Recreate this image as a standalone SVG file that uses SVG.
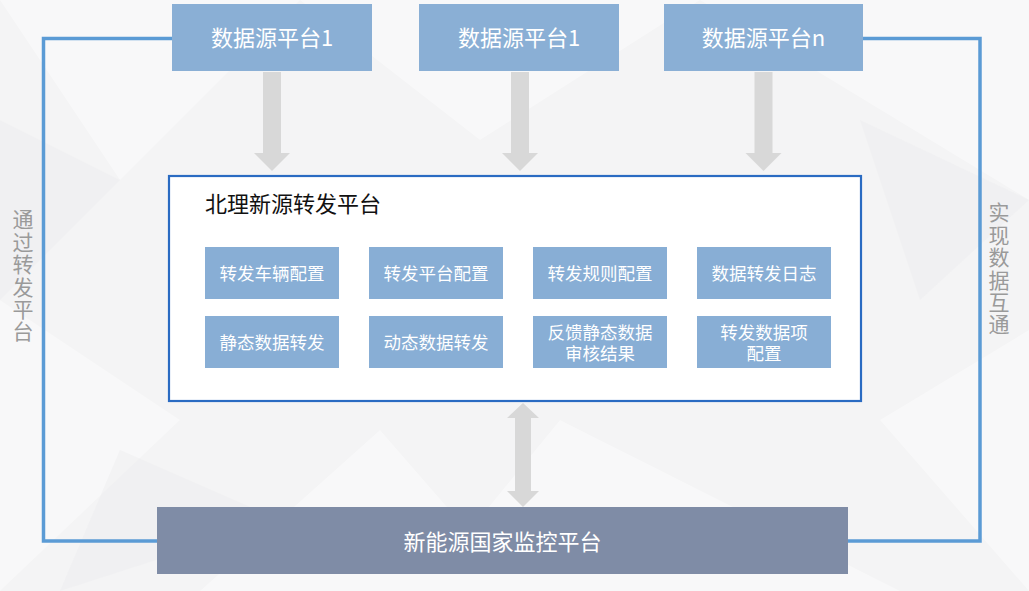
<svg xmlns="http://www.w3.org/2000/svg" width="1029" height="591" viewBox="0 0 1029 591">
  <defs>
    <style>
      .src { fill: #8aafd5; }
      .sub { fill: #88aed5; }
      .wt { fill: #ffffff; font-family: "Noto Sans CJK SC", "Liberation Sans", sans-serif; text-anchor: middle; }
      .big { font-size: 22px; }
      .sm { font-size: 17.5px; font-family: "Liberation Sans", "Noto Sans CJK SC", sans-serif; }
      .side { fill: #9a9a9a; font-family: "Noto Sans CJK SC", "Liberation Sans", sans-serif; font-size: 21px; writing-mode: vertical-rl; letter-spacing: 1.4px; }
      .link { fill: none; stroke: #5b9bd5; stroke-width: 3.5; }
      .garrow { fill: #d8d8d8; }
    </style>
  </defs>

  <!-- background -->
  <rect x="0" y="0" width="1029" height="591" fill="#f4f4f5"/>
  <g fill="#ffffff" opacity="0.4">
    <polygon points="0,0 300,0 120,180"/>
    <polygon points="300,0 700,0 480,140"/>
    <polygon points="700,0 1029,0 1029,200"/>
    <polygon points="0,300 180,420 0,591"/>
    <polygon points="560,420 900,591 420,591"/>
    <polygon points="880,420 1029,330 1029,591"/>
    <polygon points="200,591 380,430 520,591"/>
  </g>
  <g fill="#ececee" opacity="0.4">
    <polygon points="0,120 120,180 0,300"/>
    <polygon points="860,120 1029,200 920,300"/>
    <polygon points="120,450 280,520 60,591"/>
  </g>

  <!-- connectors -->
  <g id="connectors">
    <polyline class="link" points="172,38.5 43.5,38.5 43.5,541 157,541"/>
    <polyline class="link" points="860,38.5 980,38.5 980,541 848,541"/>
    <polygon class="garrow" points="263,72 281,72 281,153 290,153 272,171 254,153 263,153"/>
    <polygon class="garrow" points="511,72 529,72 529,153 538,153 520,171 502,153 511,153"/>
    <polygon class="garrow" points="754.5,72 772.5,72 772.5,153 781.5,153 763.5,171 745.5,153 754.5,153"/>
    <polygon class="garrow" points="523,403 539,418 531,418 531,491 539,491 523,507 507,491 515,491 515,418 507,418"/>
  </g>

  <!-- side labels -->
  <g id="label-left">
    <text class="side" x="23" y="209">通过转发平台</text>
  </g>
  <g id="label-right">
    <text class="side" x="999" y="202">实现数据互通</text>
  </g>

  <!-- source platforms -->
  <g id="source1">
    <rect class="src" x="172" y="4" width="200" height="67"/>
    <text class="wt big" x="272" y="46">数据源平台1</text>
  </g>
  <g id="source2">
    <rect class="src" x="419" y="4" width="200" height="67"/>
    <text class="wt big" x="519" y="46">数据源平台1</text>
  </g>
  <g id="sourceN">
    <rect class="src" x="664" y="4" width="199" height="67"/>
    <text class="wt big" x="763.5" y="46">数据源平台n</text>
  </g>

  <!-- forwarding platform -->
  <g id="forward-platform">
    <rect x="169" y="176" width="692" height="225" fill="#ffffff" stroke="#2a6bc2" stroke-width="2.2"/>
    <text x="205" y="211.5" fill="#111111" font-family="Noto Sans CJK SC, Liberation Sans, sans-serif" font-size="22">北理新源转发平台</text>
  </g>

  <g id="f-vehicle-config">
    <rect class="sub" x="205" y="247" width="134" height="52"/>
    <text class="wt sm" x="272" y="279.5">转发车辆配置</text>
  </g>
  <g id="f-platform-config">
    <rect class="sub" x="369" y="247" width="134" height="52"/>
    <text class="wt sm" x="436" y="279.5">转发平台配置</text>
  </g>
  <g id="f-rule-config">
    <rect class="sub" x="533" y="247" width="134" height="52"/>
    <text class="wt sm" x="600" y="279.5">转发规则配置</text>
  </g>
  <g id="f-log">
    <rect class="sub" x="697" y="247" width="134" height="52"/>
    <text class="wt sm" x="764" y="279.5">数据转发日志</text>
  </g>
  <g id="f-static">
    <rect class="sub" x="205" y="316" width="134" height="52"/>
    <text class="wt sm" x="272" y="348.5">静态数据转发</text>
  </g>
  <g id="f-dynamic">
    <rect class="sub" x="369" y="316" width="134" height="52"/>
    <text class="wt sm" x="436" y="348.5">动态数据转发</text>
  </g>
  <g id="f-feedback">
    <rect class="sub" x="533" y="316" width="134" height="52"/>
    <text class="wt sm"><tspan x="600" y="338.5">反馈静态数据</tspan><tspan x="600" y="359.5">审核结果</tspan></text>
  </g>
  <g id="f-item-config">
    <rect class="sub" x="697" y="316" width="134" height="52"/>
    <text class="wt sm"><tspan x="764" y="338.5">转发数据项</tspan><tspan x="764" y="359.5">配置</tspan></text>
  </g>

  <!-- national monitoring platform -->
  <g id="national-platform">
    <rect x="157" y="507" width="691" height="67" fill="#7f8ca6"/>
    <text class="wt big" x="502.5" y="550">新能源国家监控平台</text>
  </g>
</svg>
